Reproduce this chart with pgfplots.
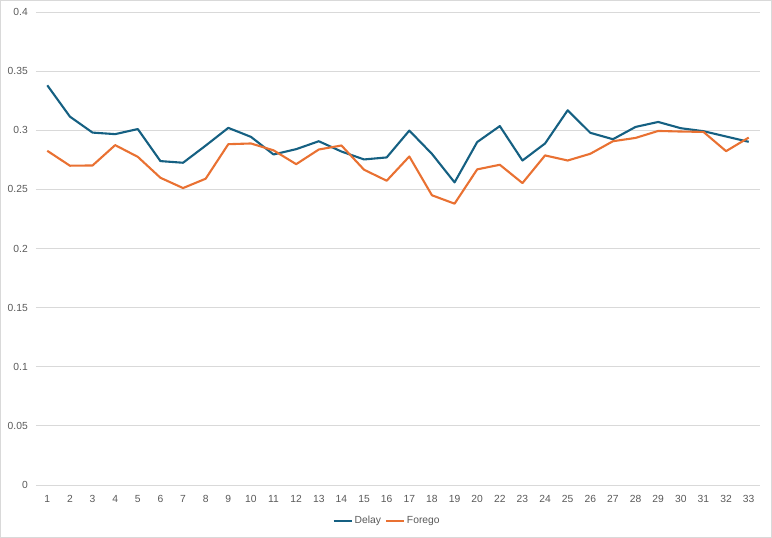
\documentclass[border=0pt]{standalone}
\usepackage{pgfplots}
\pgfplotsset{compat=1.18}
\usepackage{fontspec}
\setmainfont{Liberation Sans}
\definecolor{delay}{HTML}{156082}
\definecolor{forego}{HTML}{E97132}
\definecolor{gridc}{HTML}{D9D9D9}
\definecolor{txt}{HTML}{595959}
\begin{document}
\begin{tikzpicture}
\draw[gridc, line width=0.75pt] (0.4pt,0.4pt) rectangle (771.6pt,537.6pt);
\begin{axis}[
  at={(36pt,53pt)}, anchor=south west,
  scale only axis, width=724pt, height=473pt,
  xmin=-0.5, xmax=31.5, ymin=0, ymax=0.4,
  xtick={0,...,31},
  xticklabels={1,2,3,4,5,6,7,8,9,10,11,12,13,14,15,16,17,18,19,20,22,23,24,25,26,27,28,29,30,31,32,33},
  ytick={0,0.05,0.1,0.15,0.2,0.25,0.3,0.35,0.4},
  yticklabels={0,0.05,0.1,0.15,0.2,0.25,0.3,0.35,0.4},
  ymajorgrids, grid style={gridc, line width=0.75pt},
  axis line style={draw=none},
  major tick length=0pt,
  tick label style={font=\fontsize{10.3}{12}\selectfont, text=txt, inner sep=0pt},
  y tick label style={xshift=-8pt},
  x tick label style={yshift=-10pt},
  legend style={at={(0.485,-0.076)}, anchor=center, draw=none, fill=none,
    legend columns=2, font=\fontsize{10.3}{12}\selectfont, text=txt,
    /tikz/every even column/.append style={column sep=2pt},
    /tikz/every odd column/.append style={column sep=0pt}},
  legend image code/.code={\draw[#1, line width=2pt] (0pt,0pt) -- (18pt,0pt);},
  every axis plot/.append style={line width=2.1pt, line join=round, mark=none},
]
\addplot[delay] coordinates {
(0,0.338)(1,0.3115)(2,0.298)(3,0.2967)(4,0.301)(5,0.2739)(6,0.2725)(7,0.287)
(8,0.302)(9,0.2944)(10,0.2795)(11,0.284)(12,0.2907)(13,0.282)(14,0.2753)(15,0.277)
(16,0.2997)(17,0.280)(18,0.2559)(19,0.290)(20,0.3035)(21,0.2744)(22,0.2888)(23,0.3169)
(24,0.2978)(25,0.2924)(26,0.3028)(27,0.307)(28,0.3017)(29,0.2992)(30,0.2947)(31,0.2902)};
\addlegendentry{Delay}
\addplot[forego] coordinates {
(0,0.2826)(1,0.2700)(2,0.2702)(3,0.2874)(4,0.2775)(5,0.2598)(6,0.2511)(7,0.259)
(8,0.2882)(9,0.2888)(10,0.283)(11,0.2713)(12,0.2837)(13,0.2871)(14,0.2666)(15,0.2573)
(16,0.2778)(17,0.245)(18,0.2379)(19,0.2669)(20,0.2708)(21,0.2553)(22,0.2787)(23,0.2744)
(24,0.2801)(25,0.2907)(26,0.2935)(27,0.2994)(28,0.2989)(29,0.2986)(30,0.2823)(31,0.2938)};
\addlegendentry{Forego}
\end{axis}
\end{tikzpicture}
\end{document}
